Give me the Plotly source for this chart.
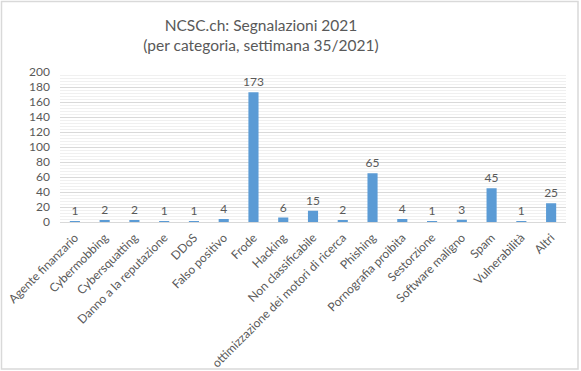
import plotly.graph_objects as go

categories = ["Agente finanzario", "Cybermobbing", "Cybersquatting", "Danno a la reputazione",
              "DDoS", "Falso positivo", "Frode", "Hacking", "Non classificabile",
              "ottimizzazione dei motori di ricerca", "Phishing", "Pornografia proibita",
              "Sestorzione", "Software maligno", "Spam", "Vulnerabilità", "Altri"]
values = [1, 2, 2, 1, 1, 4, 173, 6, 15, 2, 65, 4, 1, 3, 45, 1, 25]
y_ticks = list(range(0, 201, 20))

W, H = 581, 371
ML, MR, MT, MB = 60, 15, 72, 149
pw, ph = W - ML - MR, H - MT - MB

fig = go.Figure(go.Bar(
    x=categories, y=values, marker_color="#5B9BD5", marker_line_width=0,
    text=values, textposition="outside", cliponaxis=False, constraintext="none",
    textfont=dict(color="#595959", size=12, family="Lato"),
    width=0.34,
))

fig.update_layout(
    width=W, height=H, margin=dict(l=ML, r=MR, t=MT, b=MB, autoexpand=False),
    paper_bgcolor="white", plot_bgcolor="white",
    font=dict(family="Lato", color="#595959", size=12),
    title=dict(text="NCSC.ch: Segnalazioni 2021<br>(per categoria, settimana 35/2021)",
               x=261 / W, xanchor="center", xref="container", yref="container",
               y=1 - 31 / H, yanchor="top", automargin=False,
               font=dict(size=15.5, color="#595959", family="Lato")),
    showlegend=False,
    shapes=[dict(type="rect", xref="paper", yref="paper",
                 x0=(1.5 - ML) / pw, x1=1 + (MR - 3) / pw,
                 y0=-(MB - 2) / ph, y1=1 + (MT - 1.5) / ph,
                 line=dict(color="#d9d9d9", width=1.5), fillcolor="rgba(0,0,0,0)")],
)
fig.update_xaxes(tickangle=-45, showline=True, linecolor="#d9d9d9", linewidth=1,
                 ticks="outside", ticklen=3, tickcolor="rgba(0,0,0,0)",
                 tickfont=dict(size=12, color="#595959", family="Lato"),
                 showgrid=False, automargin=False)
fig.update_yaxes(range=[0, 200], tickvals=y_ticks, showline=False, zeroline=False,
                 gridcolor="#d9d9d9", gridwidth=1, automargin=False,
                 minor=dict(dtick=4, showgrid=True, gridcolor="#f0f0f0", gridwidth=1),
                 tickfont=dict(size=12, color="#595959", family="Lato"), ticklabelstandoff=9)

fig.write_html("out.html", config={"displayModeBar": False},
               post_script="document.body.style.margin='0px';")
